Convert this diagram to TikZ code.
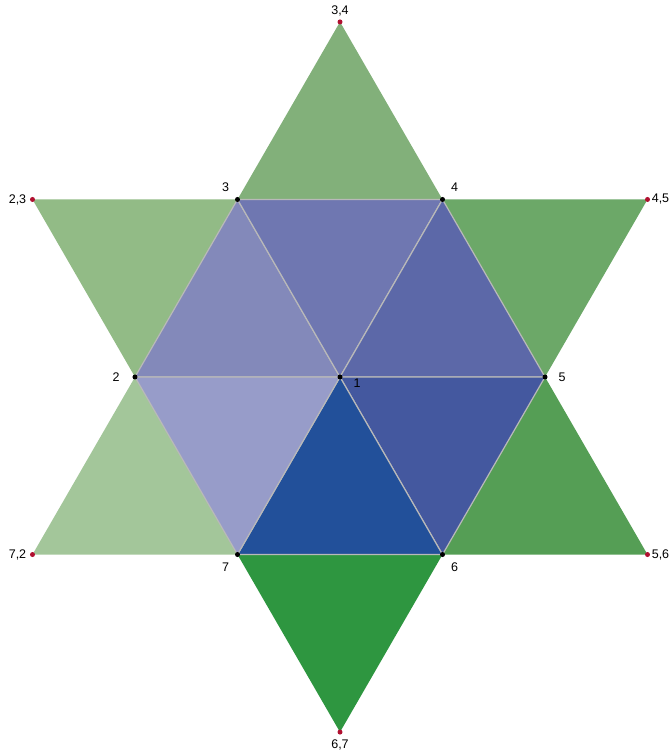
\documentclass[tikz,border=0pt]{standalone}
\usepackage{fontspec}
\setmainfont{Liberation Sans}
\definecolor{gtop}{HTML}{82B07A}
\definecolor{gur}{HTML}{6CA868}
\definecolor{glr}{HTML}{559E55}
\definecolor{gbot}{HTML}{2E9640}
\definecolor{gll}{HTML}{A3C69A}
\definecolor{gul}{HTML}{92BB86}
\definecolor{bul}{HTML}{8389BA}
\definecolor{btop}{HTML}{6F77B1}
\definecolor{bur}{HTML}{5C68A8}
\definecolor{blr}{HTML}{44589F}
\definecolor{bbot}{HTML}{22509A}
\definecolor{bll}{HTML}{979CC9}
\definecolor{ptred}{HTML}{B01030}
\begin{document}
\begin{tikzpicture}[x=1pt,y=1pt,line join=round,line cap=round,
	dot/.style={circle,fill=black,inner sep=0pt,minimum size=5pt},
	rdot/.style={circle,fill=ptred,inner sep=0pt,minimum size=5pt},
	lab/.style={font=\fontsize{12.5}{14}\selectfont,inner sep=0pt},
	tri/.style={draw=gray!55,line width=1.2pt}]
	\useasboundingbox (-340,-374) rectangle (330,377);
	% hexagon and star points
	\coordinate (v1) at (0,0);
	\foreach \i/\a in {2/180,3/120,4/60,5/0,6/-60,7/-120}
		\coordinate (v\i) at (\a:205);
	\foreach \n/\a in {23/150,34/90,45/30,56/-30,67/-90,72/-150}
		\coordinate (w\n) at (\a:355.07);
	% outer triangles
	\foreach \p/\q/\c in {2/3/gul,3/4/gtop,4/5/gur,5/6/glr,6/7/gbot,7/2/gll}
		\fill[\c] (v\p) -- (w\p\q) -- (v\q) -- cycle;
	% inner triangles
	\foreach \p/\q/\c in {2/3/bul,3/4/btop,4/5/bur,5/6/blr,6/7/bbot,7/2/bll}
		\filldraw[tri,fill=\c] (v1) -- (v\p) -- (v\q) -- cycle;
	% points
	\foreach \i in {1,...,7}
		\node[dot] (d\i) at (v\i) {};
	\foreach \n in {23,34,45,56,67,72}
		\node[rdot] (e\n) at (w\n) {};
	% labels
	\foreach \i/\dx/\dy in {1/17/-6,2/-19/0,3/-12/12,4/12/12,5/17/0,6/12/-13,7/-12/-13}
		\node[lab] (l\i) at ([shift={(\dx,\dy)}]v\i) {\i};
	\foreach \p/\q/\dx/\dy in {2/3/-15/0,3/4/0/11,4/5/13/0,5/6/13/0,6/7/0/-13,7/2/-15/0}
		\node[lab] (m\p\q) at ([shift={(\dx,\dy)}]w\p\q) {\p,\q};
\end{tikzpicture}
\end{document}
